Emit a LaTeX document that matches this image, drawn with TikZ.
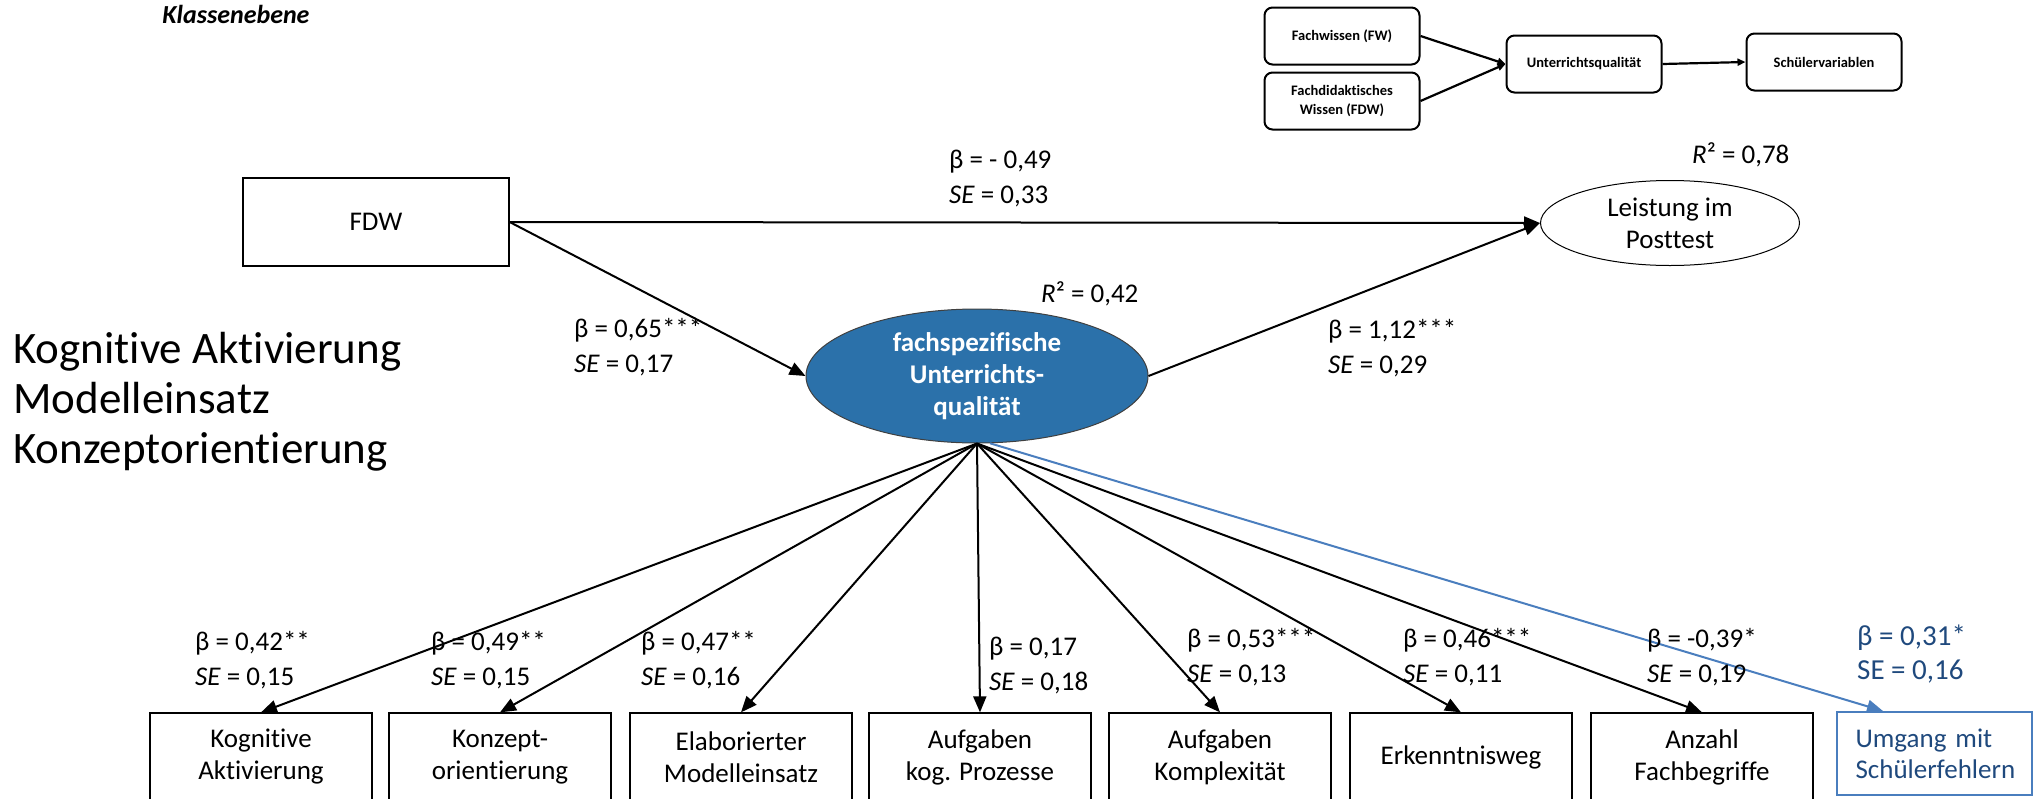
\documentclass[tikz,border=0pt]{standalone}
\usepackage{fontspec}
\setmainfont{Carlito}[Ligatures=NoCommon]
\usetikzlibrary{arrows.meta,shapes.geometric}
\definecolor{fqblue}{RGB}{43,113,170}
\definecolor{linkblue}{RGB}{74,126,190}
\definecolor{textblue}{RGB}{31,73,125}
\tikzset{
  centered/.style = { align=center, anchor=center },
      coef/.style = { font=\fontsize{27}{35}\selectfont, align=left, anchor=west, inner sep=0pt },
       var/.style = { draw, line width=1.3pt, centered, inner sep=0pt,
                      minimum width=222pt, minimum height=88pt, font=\fontsize{27}{32}\selectfont },
    latent/.style = { ellipse, draw=black!75, line width=1pt, fill=fqblue, text=white, centered,
                      minimum width=342pt, minimum height=134pt, inner sep=0pt,
                      font=\bfseries\fontsize{27}{32}\selectfont },
   outcome/.style = { ellipse, draw, line width=1pt, centered, inner sep=0pt,
                      minimum width=259pt, minimum height=85pt, font=\fontsize{27}{32}\selectfont },
     small/.style = { draw, rounded corners=8pt, line width=2pt, centered, inner sep=0pt,
                      minimum width=155pt, minimum height=57pt, font=\bfseries\fontsize{14.5}{19}\selectfont },
     arrow/.style = { line width=2pt, -{Triangle[length=16pt,width=13pt]} },
    barrow/.style = { arrow, color=linkblue },
    sarrow/.style = { line width=2.2pt, -{Triangle[length=8pt,width=7pt]} }
}
\begin{document}
\begin{tikzpicture}[x=1pt,y=-1pt]
  \useasboundingbox (0,0) rectangle (2034,798);
  \clip (0,0) rectangle (2034,798);

  % level title and left notes
  \node (klasse) at (236,14) {\bfseries\itshape\fontsize{26}{30}\selectfont Klassenebene};
  \node (notes) [anchor=north west, align=left, inner sep=0pt, font=\fontsize{45}{50}\selectfont]
    at (13,332) {Kognitive Aktivierung\\Modelleinsatz\\Konzeptorientierung};

  % small model in the corner
  \node (fw)   [small] at (1342,36)  {Fachwissen (FW)};
  \node (fdws) [small] at (1342,101) {Fachdidaktisches\\Wissen (FDW)};
  \node (uq)   [small] at (1584,64)  {Unterrichtsqualität};
  \node (sv)   [small] at (1824,62)  {Schülervariablen};

  \draw [sarrow] (fw.east)   -- (uq.west);
  \draw [sarrow] (fdws.east) -- (uq.west);
  \draw [sarrow] (uq.east)   -- (sv.west);

  % path model
  \node (fdw)  [draw, line width=1.3pt, minimum width=266pt, minimum height=88pt,
                font=\fontsize{27}{32}\selectfont] at (376,222) {FDW};
  \node (fq)   [latent]  at (977,376)  {fachspezifische\\Unterrichts-\\qualität};
  \node (post) [outcome] at (1670,223) {Leistung im\\Posttest};

  \draw [arrow] (fdw.east) -- (post.west);
  \draw [arrow] (fdw.east) -- (fq.west);
  \draw [arrow] (fq.east)  -- (post.west);

  \node (c-dir)  [coef] at (949,179)  {β = - 0,49\\\textit{SE} = 0,33};
  \node (c-fq)   [coef] at (574,347)  {β = 0,65***\\\textit{SE} = 0,17};
  \node (c-post) [coef] at (1328,348) {β = 1,12***\\\textit{SE} = 0,29};
  \node (r-post) [coef] at (1692,155) {\textit{R}² = 0,78};
  \node (r-fq)   [coef] at (1041,294) {\textit{R}² = 0,42};

  % indicators
  \node (kog)  [var] at (261,757)  {Kognitive\\Aktivierung};
  \node (konz) [var] at (500,757)  {Konzept-\\orientierung};
  \node (mod)  [var] at (741,757)  {Elaborierter\\Modelleinsatz};
  \node (aufp) [var] at (980,757)  {Aufgaben\\kog. Prozesse};
  \node (aufk) [var] at (1220,757) {Aufgaben\\Komplexität};
  \node (erk)  [var] at (1461,757) {Erkenntnisweg};
  \node (anz)  [var] at (1702,757) {Anzahl\\Fachbegriffe};
  \node (umg)  [draw=linkblue, line width=2pt, text=textblue, align=left, anchor=center,
                minimum width=195pt, minimum height=83pt, text width=158pt, inner xsep=18.5pt,
                inner ysep=0pt, font=\fontsize{27}{31}\selectfont] at (1934.5,753.5)
               {Umgang mit\\Schülerfehlern};

  \draw [arrow] (fq.south) -- (kog.north);
  \draw [arrow] (fq.south) -- (konz.north);
  \draw [arrow] (fq.south) -- (mod.north);
  \draw [arrow] (fq.south) -- (aufp.north);
  \draw [arrow] (fq.south) -- (aufk.north);
  \draw [arrow] (fq.south) -- (erk.north);
  \draw [arrow] (fq.south) -- (anz.north);
  \draw [barrow] (fq.-79) -- ([xshift=47pt]umg.north west);

  \node (c-kog)  [coef] at (195,660)  {β = 0,42**\\\textit{SE} = 0,15};
  \node (c-konz) [coef] at (431,660)  {β = 0,49**\\\textit{SE} = 0,15};
  \node (c-mod)  [coef] at (641,660)  {β = 0,47**\\\textit{SE} = 0,16};
  \node (c-aufp) [coef] at (989,666)  {β = 0,17\\\textit{SE} = 0,18};
  \node (c-aufk) [coef] at (1187,657) {β = 0,53***\\\textit{SE} = 0,13};
  \node (c-erk)  [coef] at (1403,657) {β = 0,46***\\\textit{SE} = 0,11};
  \node (c-anz)  [coef] at (1647,657) {β = -0,39*\\\textit{SE} = 0,19};
  \node (c-umg)  [coef, text=textblue, font=\fontsize{29}{34}\selectfont] at (1857,654)
                 {β = 0,31*\\SE = 0,16};
\end{tikzpicture}
\end{document}
